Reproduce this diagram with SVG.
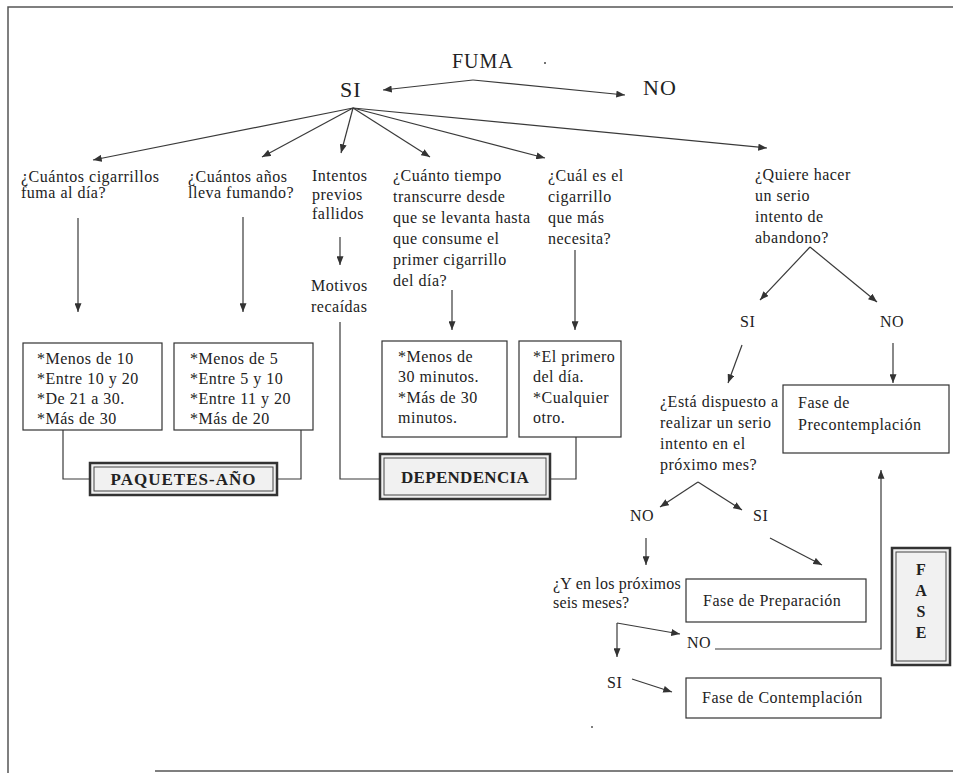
<svg xmlns="http://www.w3.org/2000/svg" width="953" height="773" viewBox="0 0 953 773">
<defs>
<marker id="ah" viewBox="0 0 10 8" refX="10" refY="4" markerWidth="9" markerHeight="7" markerUnits="userSpaceOnUse" orient="auto">
<path d="M0,0 L10,4 L0,8 Z" fill="#333"/>
</marker>
</defs>
<style>
.t{font-family:"Liberation Serif","Times New Roman",serif;font-size:16px;fill:#222;letter-spacing:0.5px}
.big{font-size:22px;letter-spacing:1px}
.b{font-weight:bold;font-size:17px;letter-spacing:1px}
.box{fill:#fff;stroke:#333;stroke-width:1.2}
.bb{fill:#f1f1f1;stroke:#333;stroke-width:2.5}
.bi{fill:none;stroke:#444;stroke-width:1}
.c{fill:none;stroke:#3a3a3a;stroke-width:1.2}
.a{marker-end:url(#ah)}
.fr{fill:none;stroke:#555;stroke-width:1.5}
</style>
<rect width="953" height="773" fill="#fff"/>
<g id="frame">
<path class="fr" d="M8,773 V7 H953"/>
<path class="fr" d="M155,771 H953"/>
<circle cx="545" cy="63" r="1" fill="#444"/>
<circle cx="592" cy="727" r="1" fill="#555"/>
</g>
<g id="connectors">
<path class="c a" d="M473,80 L383,90"/>
<path class="c a" d="M473,80 L625,95"/>
<path class="c a" d="M353,108 L93,160"/>
<path class="c a" d="M353,108 L262,157"/>
<path class="c a" d="M353,108 L341,153"/>
<path class="c a" d="M353,108 L430,157"/>
<path class="c a" d="M353,108 L545,158"/>
<path class="c a" d="M353,108 L767,148"/>
<path class="c a" d="M78,218 V312"/>
<path class="c a" d="M243,217 V312"/>
<path class="c a" d="M340,237 V265"/>
<path class="c a" d="M452,290 V330"/>
<path class="c a" d="M575,250 V330"/>
<path class="c" d="M63,430 V479 H90"/>
<path class="c" d="M301,430 V479 H277"/>
<path class="c" d="M340,322 V479 H380"/>
<path class="c" d="M576,437 V479 H550"/>
<path class="c a" d="M810,247 L760,300"/>
<path class="c a" d="M810,247 L877,302"/>
<path class="c a" d="M742,345 L728,383"/>
<path class="c a" d="M893,343 V383"/>
<path class="c a" d="M698,482 L660,507"/>
<path class="c a" d="M698,482 L742,510"/>
<path class="c a" d="M646,538 V565"/>
<path class="c a" d="M770,538 L822,565"/>
<path class="c a" d="M617,623 V657"/>
<path class="c a" d="M617,623 L680,634"/>
<path class="c a" d="M715,649 H881 V470"/>
<path class="c a" d="M632,679 L672,692"/>
</g>
<g id="fuma"><text class="t" x="452" y="68" style="font-size:20px;letter-spacing:1px">FUMA</text></g>
<g id="si-top"><text class="t big" x="340" y="97">SI</text></g>
<g id="no-top"><text class="t big" x="643" y="95">NO</text></g>
<g id="q-cigarrillos"><text class="t" x="21" y="182"><tspan x="21">¿Cuántos cigarrillos</tspan><tspan x="21" dy="16">fuma al día?</tspan></text></g>
<g id="q-anos"><text class="t" x="188" y="182"><tspan x="188">¿Cuántos años</tspan><tspan x="188" dy="16">lleva fumando?</tspan></text></g>
<g id="intentos"><text class="t" x="312" y="181"><tspan x="312">Intentos</tspan><tspan x="312" dy="19">previos</tspan><tspan x="312" dy="19">fallidos</tspan></text></g>
<g id="motivos"><text class="t" x="311" y="291"><tspan x="311">Motivos</tspan><tspan x="311" dy="21">recaídas</tspan></text></g>
<g id="q-tiempo"><text class="t" x="393" y="181"><tspan x="393">¿Cuánto tiempo</tspan><tspan x="393" dy="21">transcurre desde</tspan><tspan x="393" dy="21">que se levanta hasta</tspan><tspan x="393" dy="21">que consume el</tspan><tspan x="393" dy="21">primer cigarrillo</tspan><tspan x="393" dy="21">del día?</tspan></text></g>
<g id="q-cual"><text class="t" x="548" y="181"><tspan x="548">¿Cuál es el</tspan><tspan x="548" dy="21">cigarrillo</tspan><tspan x="548" dy="21">que más</tspan><tspan x="548" dy="21">necesita?</tspan></text></g>
<g id="q-quiere"><text class="t" x="755" y="180"><tspan x="755">¿Quiere hacer</tspan><tspan x="755" dy="21">un serio</tspan><tspan x="755" dy="21">intento de</tspan><tspan x="755" dy="21">abandono?</tspan></text></g>
<g id="box-cigarrillos"><rect class="box" x="23" y="343" width="139" height="87"/><text class="t" x="37" y="364"><tspan x="37">*Menos de 10</tspan><tspan x="37" dy="20">*Entre 10 y 20</tspan><tspan x="37" dy="20">*De 21 a 30.</tspan><tspan x="37" dy="20">*Más de 30</tspan></text></g>
<g id="box-anos"><rect class="box" x="174" y="343" width="139" height="87"/><text class="t" x="190" y="364"><tspan x="190">*Menos de 5</tspan><tspan x="190" dy="20">*Entre 5 y 10</tspan><tspan x="190" dy="20">*Entre 11 y 20</tspan><tspan x="190" dy="20">*Más de 20</tspan></text></g>
<g id="box-tiempo"><rect class="box" x="382" y="341" width="125" height="96"/><text class="t" x="398" y="362"><tspan x="398">*Menos de</tspan><tspan x="398" dy="20">30 minutos.</tspan><tspan x="398" dy="21">*Más de 30</tspan><tspan x="398" dy="20">minutos.</tspan></text></g>
<g id="box-cual"><rect class="box" x="519" y="341" width="102" height="96"/><text class="t" x="533" y="362"><tspan x="533">*El primero</tspan><tspan x="533" dy="20">del día.</tspan><tspan x="533" dy="21">*Cualquier</tspan><tspan x="533" dy="20">otro.</tspan></text></g>
<g id="paquetes-ano"><rect class="bb" x="90" y="463" width="187" height="32"/><rect class="bi" x="94" y="467" width="179" height="24"/><text class="t b" x="183.5" y="485" text-anchor="middle">PAQUETES-AÑO</text></g>
<g id="dependencia"><rect class="bb" x="380" y="454" width="170" height="45"/><rect class="bi" x="384" y="458" width="162" height="37"/><text class="t b" x="465" y="483" text-anchor="middle" style="letter-spacing:0.3px">DEPENDENCIA</text></g>
<g id="si-2"><text class="t" x="740" y="327">SI</text></g>
<g id="no-2"><text class="t" x="880" y="327">NO</text></g>
<g id="q-dispuesto"><text class="t" x="660" y="407"><tspan x="660">¿Está dispuesto a</tspan><tspan x="660" dy="21">realizar un serio</tspan><tspan x="660" dy="21">intento en el</tspan><tspan x="660" dy="21">próximo mes?</tspan></text></g>
<g id="fase-precontemplacion"><rect class="box" x="783" y="385" width="166" height="68"/><text class="t" x="798" y="408"><tspan x="798">Fase de</tspan><tspan x="798" dy="22">Precontemplación</tspan></text></g>
<g id="no-3"><text class="t" x="630" y="521">NO</text></g>
<g id="si-3"><text class="t" x="753" y="521">SI</text></g>
<g id="q-seis"><text class="t" x="553" y="589" style="letter-spacing:0.2px"><tspan x="553">¿Y en los próximos</tspan><tspan x="553" dy="19">seis meses?</tspan></text></g>
<g id="fase-preparacion"><rect class="box" x="686" y="579" width="180" height="43"/><text class="t" x="703" y="606">Fase de Preparación</text></g>
<g id="no-4"><text class="t" x="687" y="648">NO</text></g>
<g id="si-4"><text class="t" x="607" y="688">SI</text></g>
<g id="fase-contemplacion"><rect class="box" x="686" y="678" width="195" height="40"/><text class="t" x="702" y="703">Fase de Contemplación</text></g>
<g id="fase"><rect class="bb" x="892" y="548" width="58" height="117"/><rect class="bi" x="896" y="552" width="50" height="109"/><text class="t b" text-anchor="middle" style="font-size:16px;letter-spacing:0"><tspan x="921" y="575">F</tspan><tspan x="921" y="596">A</tspan><tspan x="921" y="617">S</tspan><tspan x="921" y="638">E</tspan></text></g>
</svg>
